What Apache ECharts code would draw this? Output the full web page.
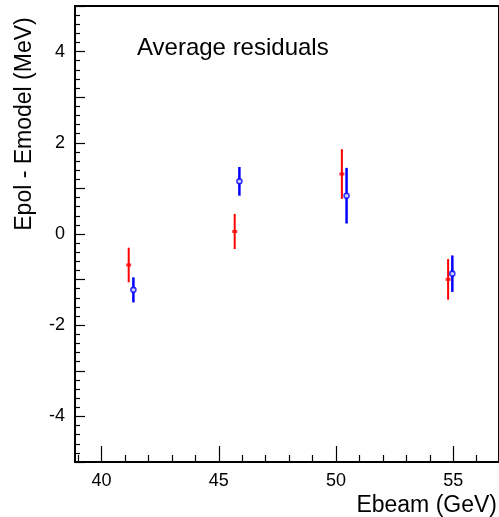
<!DOCTYPE html>
<html>
<head>
<meta charset="utf-8">
<script src="https://cdn.jsdelivr.net/npm/echarts@6/dist/echarts.min.js"></script>
<style>
html,body{margin:0;padding:0;background:#fff;}
#chart{width:499px;height:517px;}
</style>
</head>
<body>
<div id="chart"></div>
<script>
// Data
var redX = [41.16, 45.68, 50.25, 54.78];
var redY = [-0.68, 0.055, 1.315, -0.995];
var redErr = [0.38, 0.385, 0.545, 0.445];

var blueX = [41.36, 45.88, 50.45, 54.96];
var blueY = [-1.225, 1.155, 0.84, -0.87];
var blueErr = [0.275, 0.315, 0.61, 0.40];

// Axis ticks / labels
var xMajorTicks = [40, 45, 50, 55];
var xMinorTicks = [39, 41, 42, 43, 44, 46, 47, 48, 49, 51, 52, 53, 54, 56];
var yLabelValues = [-4, -2, 0, 2, 4];

var xTitle = 'Ebeam (GeV)';
var yTitle = 'Epol - Emodel (MeV)';
var plotText = 'Average residuals';

var FONT = '"Liberation Sans", Arial, Helvetica, sans-serif';

function zip(xs, ys, es) {
  return xs.map(function (x, i) { return [x, ys[i], es[i]]; });
}
var redData = zip(redX, redY, redErr);
var blueData = zip(blueX, blueY, blueErr);

function errBar(color, width) {
  return function (params, api) {
    var x = api.value(0), y = api.value(1), e = api.value(2);
    var p1 = api.coord([x, y - e]);
    var p2 = api.coord([x, y + e]);
    return {
      type: 'line',
      shape: { x1: p1[0], y1: p1[1], x2: p2[0], y2: p2[1] },
      style: { stroke: color, lineWidth: width }
    };
  };
}

var chart = echarts.init(document.getElementById('chart'), null, { renderer: 'canvas' });
var option = {
  animation: false,
  backgroundColor: '#fff',
  grid: {
    left: 75, top: 6, right: -3, bottom: 55,
    show: true, borderColor: '#000', borderWidth: 2, backgroundColor: 'transparent'
  },
  xAxis: [
    {
      type: 'value', min: 38.87, max: 56.95, position: 'bottom',
      axisLine: { show: true, onZero: false, lineStyle: { color: '#000', width: 2 } },
      axisTick: { show: true, inside: true, length: 16, customValues: xMajorTicks, lineStyle: { color: '#000', width: 1.2 } },
      axisLabel: { show: true, customValues: xMajorTicks, color: '#000', fontSize: 18, fontFamily: FONT, margin: 10 },
      splitLine: { show: false }
    },
    {
      type: 'value', min: 38.87, max: 56.95, position: 'bottom',
      axisLine: { show: false, onZero: false },
      axisTick: { show: true, inside: true, length: 7, customValues: xMinorTicks, lineStyle: { color: '#000', width: 1.2 } },
      axisLabel: { show: false },
      splitLine: { show: false }
    }
  ],
  yAxis: {
    type: 'value', min: -5, max: 5, interval: 1,
    axisLine: { show: true, onZero: false, lineStyle: { color: '#000', width: 2 } },
    axisTick: { show: true, inside: true, length: 10, lineStyle: { color: '#000', width: 1.2 } },
    minorTick: { show: true, splitNumber: 5, length: 5, lineStyle: { color: '#000', width: 1.2 } },
    axisLabel: { show: true, customValues: yLabelValues, color: '#000', fontSize: 18, fontFamily: FONT, margin: 10 },
    splitLine: { show: false },
    minorSplitLine: { show: false }
  },
  graphic: [
    {
      type: 'text', left: 137, top: 36,
      style: { text: plotText, fill: '#000', font: '24px ' + FONT }
    },
    {
      type: 'text', x: 497, y: 506,
      style: { text: xTitle, fill: '#000', font: '23px ' + FONT, align: 'right', verticalAlign: 'middle' }
    },
    {
      type: 'text', x: 25, y: 124, rotation: Math.PI / 2,
      style: { text: yTitle, fill: '#000', font: '23px ' + FONT, align: 'center', verticalAlign: 'middle' }
    }
  ],
  series: [
    {
      type: 'custom', name: 'red err', xAxisIndex: 0, yAxisIndex: 0,
      renderItem: errBar('#ff0000', 2), data: redData, encode: { x: 0, y: 1 }, z: 2
    },
    {
      type: 'custom', name: 'blue err', xAxisIndex: 0, yAxisIndex: 0,
      renderItem: errBar('#0000ff', 2.5), data: blueData, encode: { x: 0, y: 1 }, z: 2
    },
    {
      type: 'scatter', name: 'red', xAxisIndex: 0, yAxisIndex: 0,
      data: redData.map(function (d) { return [d[0], d[1]]; }),
      symbol: 'rect', symbolSize: [5, 3],
      itemStyle: { color: '#ff0000' }, z: 3
    },
    {
      type: 'scatter', name: 'blue', xAxisIndex: 0, yAxisIndex: 0,
      data: blueData.map(function (d) { return [d[0], d[1]]; }),
      symbol: 'circle', symbolSize: 5,
      itemStyle: { color: '#ffffff', borderColor: '#0000ff', borderWidth: 1.6 }, z: 3
    }
  ]
};
chart.setOption(option);
</script>
</body>
</html>
